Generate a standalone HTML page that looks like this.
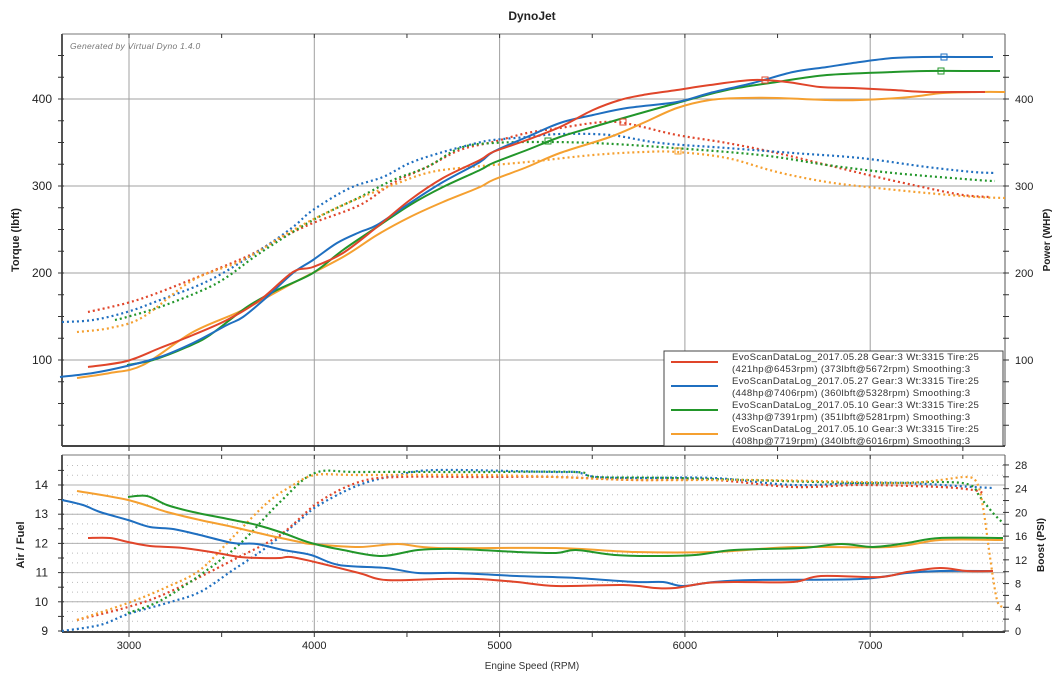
<!DOCTYPE html>
<html><head><meta charset="utf-8"><style>
html,body{margin:0;padding:0;background:#fff;width:1064px;height:682px;overflow:hidden}
svg{display:block;font-family:"Liberation Sans",Arial,sans-serif}
</style></head><body>
<svg id="s" width="1064" height="682" viewBox="0 0 1064 682" xmlns="http://www.w3.org/2000/svg">
<rect width="1064" height="682" fill="#fff"/>
<text x="532" y="20" text-anchor="middle" font-size="12" font-weight="bold" fill="#222">DynoJet</text>
<g id="grid"></g>
<text x="70" y="49" font-size="8.5" font-style="italic" fill="#777" letter-spacing="0.3">Generated by Virtual Dyno 1.4.0</text>
<g id="curves"></g>
<text transform="translate(19,240) rotate(-90)" text-anchor="middle" font-size="11" font-weight="bold" fill="#222">Torque (lbft)</text>
<text transform="translate(1050,240) rotate(-90)" text-anchor="middle" font-size="10" font-weight="bold" fill="#222">Power (WHP)</text>
<text transform="translate(24,545) rotate(-90)" text-anchor="middle" font-size="11" font-weight="bold" fill="#222">Air / Fuel</text>
<text transform="translate(1044,545) rotate(-90)" text-anchor="middle" font-size="10" font-weight="bold" fill="#222">Boost (PSI)</text>
<text x="532" y="669" text-anchor="middle" font-size="10" fill="#333">Engine Speed (RPM)</text>
<g id="legend">
<rect x="664" y="351" width="339" height="95" fill="#fff" stroke="#444" stroke-width="1"/>
<g font-size="9.6" fill="#333" letter-spacing="0.35">
<line x1="671" y1="362" x2="718" y2="362" stroke="#e0452a" stroke-width="2"/>
<text x="732" y="360">EvoScanDataLog_2017.05.28 Gear:3 Wt:3315 Tire:25</text>
<text x="732" y="372">(421hp@6453rpm) (373lbft@5672rpm) Smoothing:3</text>
<line x1="671" y1="386" x2="718" y2="386" stroke="#1f6fc0" stroke-width="2"/>
<text x="732" y="384">EvoScanDataLog_2017.05.27 Gear:3 Wt:3315 Tire:25</text>
<text x="732" y="396">(448hp@7406rpm) (360lbft@5328rpm) Smoothing:3</text>
<line x1="671" y1="410" x2="718" y2="410" stroke="#22962a" stroke-width="2"/>
<text x="732" y="408">EvoScanDataLog_2017.05.10 Gear:3 Wt:3315 Tire:25</text>
<text x="732" y="420">(433hp@7391rpm) (351lbft@5281rpm) Smoothing:3</text>
<line x1="671" y1="434" x2="718" y2="434" stroke="#f5a030" stroke-width="2"/>
<text x="732" y="432">EvoScanDataLog_2017.05.10 Gear:3 Wt:3315 Tire:25</text>
<text x="732" y="444">(408hp@7719rpm) (340lbft@6016rpm) Smoothing:3</text>
</g></g>
<g id="labels" font-size="12" fill="#222"></g>
</svg>
<script>
var NS="http://www.w3.org/2000/svg";
function el(p,t,a){var e=document.createElementNS(NS,t);for(var k in a)e.setAttribute(k,a[k]);p.appendChild(e);return e;}
var G=document.getElementById('grid'),C=document.getElementById('curves'),L=document.getElementById('labels');
var X0=62,X1=1005,T0=34,T1=446,B0=455,B1=632;
function xr(r){return 129+(r-3000)*0.1853;}
// top grid
for(var r=3000;r<=7000;r+=1000){el(G,'line',{x1:xr(r),y1:T0,x2:xr(r),y2:T1,stroke:'#a0a0a0','stroke-width':1});el(G,'line',{x1:xr(r),y1:B0,x2:xr(r),y2:B1,stroke:'#a0a0a0','stroke-width':1});
 var t=el(L,'text',{x:xr(r),y:649,'text-anchor':'middle','font-size':11});t.textContent=r;}
[100,200,300,400].forEach(function(v){var y=99+(400-v)*0.87;el(G,'line',{x1:X0,y1:y,x2:X1,y2:y,stroke:'#a0a0a0','stroke-width':1});
 var t=el(L,'text',{x:52,y:y+4,'text-anchor':'end'});t.textContent=v;t=el(L,'text',{x:1015,y:y+4,'font-size':11});t.textContent=v;});
// bottom grid
for(var a=9;a<=14.8;a+=1/3){var y=631-(a-9)*29.2;el(G,'line',{x1:X0,y1:y,x2:X1,y2:y,stroke:'#bbb','stroke-width':1,'stroke-dasharray':'1 4'});}
for(var a=10;a<=14;a++){var y=631-(a-9)*29.2;el(G,'line',{x1:X0,y1:y,x2:X1,y2:y,stroke:'#b0b0b0','stroke-width':1});}
for(var a=9;a<=14;a++){var y=631-(a-9)*29.2;var t=el(L,'text',{x:48,y:y+4,'text-anchor':'end'});t.textContent=a;}
for(var b=0;b<=28;b+=4){var y=631-b*5.93;var t=el(L,'text',{x:1015,y:y+4,'font-size':11});t.textContent=b;}
// frames
function frame(y0,y1){el(G,'line',{x1:X0,y1:y0,x2:X1,y2:y0,stroke:'#777'});el(G,'line',{x1:X1,y1:y0,x2:X1,y2:y1,stroke:'#555'});
 el(G,'line',{x1:X0,y1:y0,x2:X0,y2:y1,stroke:'#555','stroke-width':2});el(G,'line',{x1:X0,y1:y1,x2:X1,y2:y1,stroke:'#444','stroke-width':2});
 for(var r=2700;r<=7700;r+=100){if(r%500)continue;var x=xr(r);el(G,'line',{x1:x,y1:y1,x2:x,y2:y1+5,stroke:'#333'});el(G,'line',{x1:x,y1:y0,x2:x,y2:y0+4,stroke:'#333'});}
}
frame(T0,T1);frame(B0,B1);
for(var v=0;v<=470;v+=25){var y=99+(400-v)*0.87;if(y<T0||y>T1)continue;el(G,'line',{x1:X0-4,y1:y,x2:X0+2,y2:y,stroke:'#333'});el(G,'line',{x1:X1-2,y1:y,x2:X1+4,y2:y,stroke:'#333'});}
for(var b=0;b<=28;b+=2){var y=631-b*5.93;el(G,'line',{x1:X1-2,y1:y,x2:X1+4,y2:y,stroke:'#333'});}
for(var a=9;a<=14.5;a+=0.5){var y=631-(a-9)*29.2;el(G,'line',{x1:X0-4,y1:y,x2:X0+2,y2:y,stroke:'#333'});}
function path(p){var d='M'+p[0][0]+','+p[0][1];for(var i=0;i<p.length-1;i++){var a=p[Math.max(0,i-1)],b=p[i],c=p[i+1],e=p[Math.min(p.length-1,i+2)];
 d+=' C'+(b[0]+(c[0]-a[0])/6).toFixed(1)+','+(b[1]+(c[1]-a[1])/6).toFixed(1)+' '+(c[0]-(e[0]-b[0])/6).toFixed(1)+','+(c[1]-(e[1]-b[1])/6).toFixed(1)+' '+c[0]+','+c[1];}return d;}
var R='#e0452a',B='#1f6fc0',Gr='#22962a',O='#f5a030';
function draw(p,col,dot){el(C,'path',{d:path(p),fill:'none',stroke:col,'stroke-width':dot?2.2:2,'stroke-dasharray':dot?'2 3':'none'});}
// top dotted
draw([[88,312],[127,303],[160,292],[210,272],[250,255],[277,240],[313,223],[360,205],[393,183],[427,167],[460,150],[493,142],[527,133],[560,128],[593,123],[617,122],[643,127],[677,135],[727,143],[777,153],[827,165],[877,177],[927,188],[963,195],[990,197]],R,1);
draw([[62,322],[93,320],[127,312],[160,300],[210,280],[260,250],[293,227],[313,210],[350,188],[383,177],[410,163],[443,152],[477,143],[493,140],[527,137],[560,134],[610,135],[660,143],[727,148],[793,153],[860,158],[927,167],[973,172],[995,173]],B,1);
draw([[115,320],[127,317],[160,307],[203,290],[227,277],[260,253],[313,220],[360,197],[393,180],[427,167],[460,148],[493,143],[543,142],[593,143],[660,147],[760,155],[827,165],[893,173],[977,180],[995,181]],Gr,1);
draw([[77,332],[110,328],[143,317],[193,280],[243,260],[293,230],[343,205],[393,185],[427,173],[460,168],[527,162],[593,155],[643,152],[677,152],[727,158],[777,172],[827,182],[877,188],[927,193],[977,197],[1005,198]],O,1);
// top solid
draw([[77,378],[110,373],[143,365],[193,332],[243,310],[293,283],[343,257],[377,235],[410,217],[443,202],[480,187],[493,180],[527,167],[560,153],[610,137],[643,123],[677,108],[710,100],[743,98],[777,98],[827,100],[860,100],[910,97],[943,93],[980,92],[1005,92]],O,0);
draw([[127,365],[153,360],[187,347],[210,335],[247,307],[277,290],[313,273],[343,250],[377,227],[410,205],[443,187],[480,170],[493,163],[527,150],[560,137],[593,127],[627,117],[677,103],[727,90],[777,82],[827,75],[893,72],[927,71],[977,71],[1000,71]],Gr,0);
draw([[60,377],[93,373],[127,366],[160,357],[193,343],[227,325],[243,317],[267,297],[293,273],[313,260],[337,243],[360,232],[377,225],[410,203],[443,182],[480,162],[493,152],[527,137],[560,123],[593,115],[627,108],[677,102],[710,93],[753,83],[793,72],[827,67],[860,62],[893,58],[923,57],[970,57],[993,57]],B,0);
draw([[88,367],[127,361],[160,348],[193,335],[227,320],[260,300],[293,272],[313,267],[343,253],[377,227],[410,200],[443,178],[480,160],[493,152],[527,140],[560,127],[593,110],[620,100],[643,95],[677,90],[710,85],[753,80],[787,82],[820,87],[853,88],[893,90],[927,92],[963,92],[985,92]],R,0);
[[944,57,B],[941,71,Gr],[765,80,R],[623,122,R],[678,151,O],[548,141,Gr]].forEach(function(m){el(C,'rect',{x:m[0]-3,y:m[1]-3,width:6,height:6,fill:'none',stroke:m[2],'stroke-width':1});});
// bottom dotted
draw([[62,631],[100,625],[128,614],[167,603],[200,592],[233,570],[267,547],[300,520],[319,505],[359,485],[398,475],[438,470],[556,472],[576,472],[596,477],[635,478],[714,478],[793,485],[860,483],[907,483],[973,487],[993,488]],B,1);
draw([[77,620],[128,607],[167,593],[233,560],[280,535],[319,502],[359,482],[398,477],[477,477],[556,477],[635,480],[714,480],[793,487],[860,485],[940,487],[973,490],[983,493]],R,1);
draw([[128,613],[167,597],[233,550],[280,502],[315,473],[359,472],[477,472],[576,472],[596,477],[675,478],[860,483],[940,482],[970,485],[980,497],[993,513],[1003,523]],Gr,1);
draw([[77,620],[128,603],[167,587],[200,570],[233,537],[267,503],[290,487],[315,475],[359,475],[477,475],[556,477],[635,480],[754,480],[860,482],[907,483],[940,480],[967,477],[977,483],[983,507],[990,557],[997,600],[1003,607]],O,1);
// bottom solid
draw([[77,491],[128,500],[167,512],[200,520],[233,527],[267,535],[300,542],[311,544],[359,547],[398,544],[438,548],[556,548],[635,552],[714,552],[793,547],[890,547],[940,540],[1003,540]],O,0);
draw([[128,497],[147,496],[167,505],[193,512],[233,520],[257,525],[283,533],[311,543],[343,550],[382,556],[418,550],[457,549],[517,552],[556,553],[576,550],[615,555],[655,556],[695,555],[734,550],[801,548],[841,544],[873,547],[907,543],[940,538],[1003,538]],Gr,0);
draw([[62,500],[83,505],[100,512],[128,520],[150,527],[173,529],[200,535],[233,543],[257,544],[283,550],[311,555],[339,565],[386,568],[418,573],[457,573],[517,576],[576,578],[635,582],[663,582],[683,586],[714,582],[754,580],[860,579],[907,573],[940,571],[993,571]],B,0);
draw([[88,538],[110,538],[128,542],[150,546],[183,548],[217,553],[240,557],[260,558],[280,558],[291,557],[319,563],[359,573],[386,580],[438,579],[477,579],[517,582],[556,586],[623,585],[655,588],[675,588],[706,583],[734,582],[793,582],[821,576],[880,577],[907,572],[940,568],[967,571],[993,571]],R,0);
</script>
</body></html>
